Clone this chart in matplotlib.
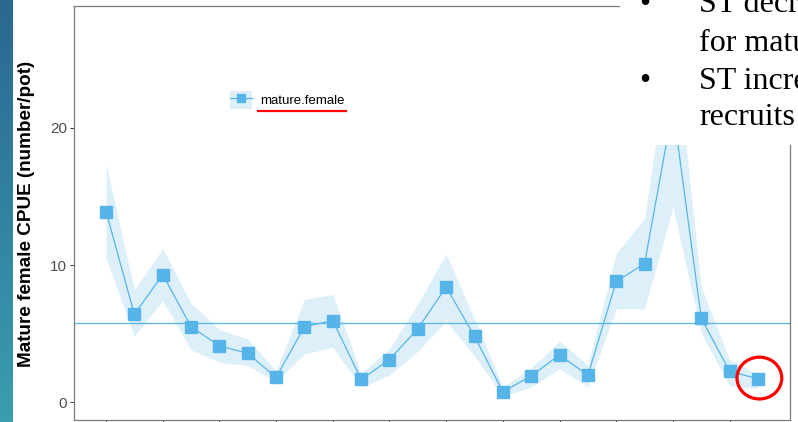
import numpy as np
import matplotlib
matplotlib.use("Agg")
import matplotlib.pyplot as plt
from matplotlib.lines import Line2D
from matplotlib.patches import Patch, Ellipse, Rectangle
from matplotlib.colors import LinearSegmentedColormap

# Mature female CPUE by survey year (index 0..23), with confidence band
cpue = [13.9, 6.4, 9.3, 5.5, 4.1, 3.55, 1.8, 5.5, 5.95, 1.65, 3.1, 5.35,
        8.4, 4.8, 0.75, 1.9, 3.45, 1.95, 8.8, 10.1, 21.5, 6.1, 2.25, 1.7]
upper = [17.4, 8.2, 11.2, 7.2, 5.3, 4.6, 2.3, 7.5, 7.85, 2.1, 3.9, 7.2,
         10.8, 6.1, 1.1, 2.5, 4.45, 2.7, 10.85, 13.4, 27.5, 8.4, 3.1, 2.0]
lower = [10.5, 4.8, 7.4, 3.8, 2.9, 2.65, 1.5, 3.5, 4.0, 1.07, 1.97, 3.7,
         5.9, 3.35, 0.4, 1.1, 2.45, 1.1, 6.8, 6.8, 14.2, 5.0, 1.2, 1.0]
series_name = "mature.female"
y_ticks = [0, 10, 20]
y_label = "Mature female CPUE (number/pot)"
bullets = [["ST decreased CPUE", "for mature females"],
           ["ST increased CPUE for", "recruits"]]

W, H = 798, 422
fig = plt.figure(figsize=(W / 100, H / 100), dpi=100)
fig.patch.set_facecolor("white")


def fx(px):
    return px / W


def fy(py):
    return 1 - py / H


blue = "#56B4E9"
x = np.arange(len(cpue))

ax = fig.add_axes([fx(74), fy(420), fx(790) - fx(74), fy(6) - fy(420)])
ax.fill_between(x, lower, upper, color=blue, alpha=0.2, lw=0, zorder=1)
ax.axhline(np.mean(cpue), color=blue, lw=0.9, zorder=2)
ax.plot(x, cpue, color=blue, lw=0.9, marker="s", ms=8, mec=blue, zorder=3)

ax.set_xlim(-1.13, len(cpue) - 1 + 1.13)
ax.set_ylim(-1.31, 28.9)
ax.set_yticks(y_ticks)
ax.set_xticks(x[::2])
ax.set_xticklabels([])
ax.tick_params(axis="both", color="#333333", length=3, width=0.7,
               labelsize=11, labelcolor="#4d4d4d", pad=2)
for sp in ax.spines.values():
    sp.set_color("#7a7a7a")
    sp.set_linewidth(0.9)
for lab in ax.get_yticklabels():
    lab.set_fontfamily("Liberation Sans")

# legend
handle = (Patch(facecolor=blue, alpha=0.2, lw=0),
          Line2D([], [], color=blue, lw=0.9, marker="s", ms=6))
leg = ax.legend([handle], [series_name], loc="center left",
                bbox_to_anchor=(fx(218), fy(100)), bbox_transform=fig.transFigure,
                frameon=False, handlelength=1.7, handleheight=1.7,
                handletextpad=0.6, prop={"family": "Liberation Sans", "size": 9.5})

# underline under legend label and circle on the latest value
fig.add_artist(Line2D([fx(258), fx(346)], [fy(111), fy(111)], color="red", lw=1.6))
ax.add_patch(Ellipse((23.05, 1.75), 1.58, 3.05, fill=False, ec="red", lw=2.3,
                     clip_on=False, zorder=5))

# y axis title
fig.text(fx(27), fy(214), y_label, rotation=90, ha="center", va="center",
         fontsize=13.6, fontweight="bold", family="Liberation Sans")

# slide text panel on the upper right
fig.add_artist(Rectangle((fx(620), fy(145)), 1 - fx(620), fy(0) - fy(145),
                         transform=fig.transFigure, facecolor="white", lw=0,
                         zorder=10))
baselines = [12, 51, 89, 125]
i = 0
for lines in bullets:
    for j, line in enumerate(lines):
        if j == 0:
            fig.text(fx(639), fy(baselines[i]), "•", fontsize=23,
                     family="Liberation Serif", va="baseline", zorder=11)
        fig.text(fx(699), fy(baselines[i]), line, fontsize=23,
                 family="Liberation Serif", va="baseline", zorder=11)
        i += 1

# slide edge gradient
sax = fig.add_axes([0, 0, fx(13), 1])
cmap = LinearSegmentedColormap.from_list("edge", ["#2b6791", "#3a9db0"])
sax.imshow(np.linspace(0, 1, 200).reshape(-1, 1), aspect="auto", cmap=cmap)
sax.set_axis_off()

fig.savefig("out.png", dpi=100)
